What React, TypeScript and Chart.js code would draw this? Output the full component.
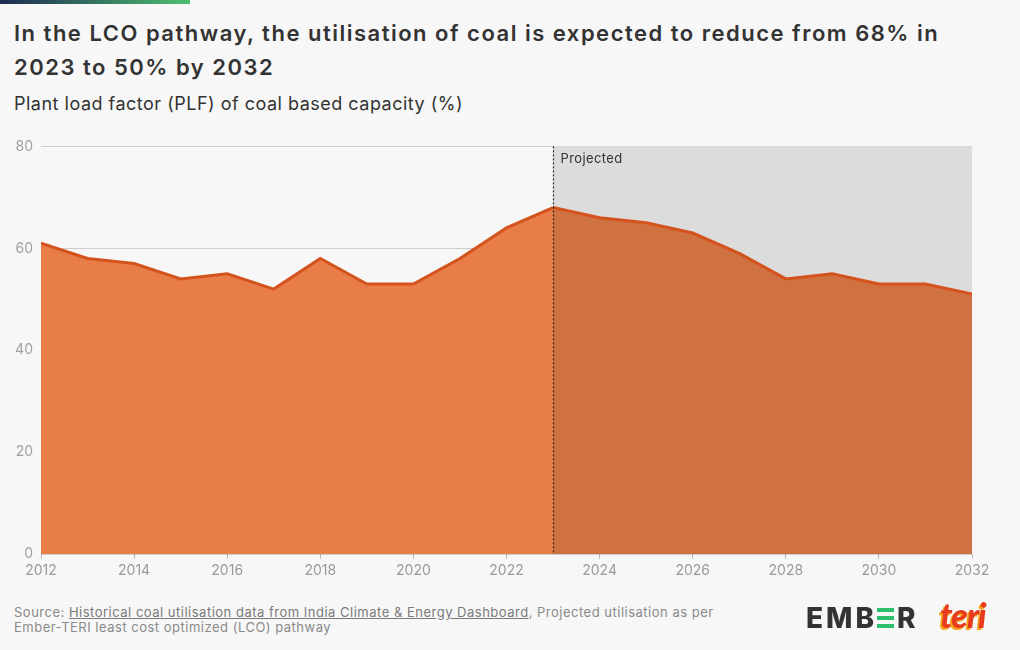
import React, { useEffect, useRef } from "react";
import { Chart, registerables } from "chart.js";

Chart.register(...registerables);

const years = [2012, 2013, 2014, 2015, 2016, 2017, 2018, 2019, 2020, 2021, 2022, 2023, 2024, 2025, 2026, 2027, 2028, 2029, 2030, 2031, 2032];
const plfValues = [61, 58, 57, 54, 55, 52, 58, 53, 53, 58, 64, 68, 66, 65, 63, 59, 54, 55, 53, 53, 51];
const projectionStart = 2023;
const projectionLabel = "Projected";
const yTicks = [0, 20, 40, 60, 80];

const title = "In the LCO pathway, the utilisation of coal is expected to reduce from 68% in 2023 to 50% by 2032";
const subtitle = "Plant load factor (PLF) of coal based capacity (%)";

const projectionPlugin = {
  id: "projection",
  beforeDatasetsDraw(chart: any) {
    const { ctx, chartArea, scales } = chart;
    const x0 = scales.x.getPixelForValue(projectionStart);
    ctx.save();
    ctx.fillStyle = "#DCDCDC";
    ctx.fillRect(x0, chartArea.top, chartArea.right - x0, chartArea.bottom - chartArea.top);
    ctx.restore();
  },
  afterDatasetsDraw(chart: any) {
    const { ctx, chartArea, scales } = chart;
    const x0 = Math.round(scales.x.getPixelForValue(projectionStart)) + 0.5;
    ctx.save();
    ctx.strokeStyle = "#222";
    ctx.lineWidth = 1.2;
    ctx.setLineDash([2, 2]);
    ctx.beginPath();
    ctx.moveTo(x0, chartArea.top);
    ctx.lineTo(x0, chartArea.bottom);
    ctx.stroke();
    ctx.setLineDash([]);
    ctx.fillStyle = "#333";
    ctx.font = "13px Inter, 'Noto Sans', sans-serif";
    (ctx as any).letterSpacing = "0.4px";
    ctx.textAlign = "left";
    ctx.textBaseline = "middle";
    ctx.fillText(projectionLabel, x0 + 7, chartArea.top + 13);
    ctx.restore();
  },
};

function PlfChart() {
  const ref = useRef<HTMLCanvasElement | null>(null);
  useEffect(() => {
    if (!ref.current) return;
    const data = years.map((y, i) => ({ x: y, y: plfValues[i] }));
    const chart = new Chart(ref.current, {
      type: "line",
      data: {
        datasets: [
          {
            data,
            borderColor: "#D4531C",
            borderWidth: 3,
            pointRadius: 0,
            tension: 0,
            fill: "origin",
            backgroundColor: "#E87D48",
            segment: {
              backgroundColor: (c: any) => (c.p0.parsed.x >= projectionStart ? "#D07142" : "#E87D48"),
            },
          } as any,
        ],
      },
      options: {
        animation: false,
        responsive: false,
        maintainAspectRatio: false,
        layout: { padding: { left: 0, right: 48, top: 16, bottom: 16 } },
        plugins: { legend: { display: false }, tooltip: { enabled: false } },
        scales: {
          x: {
            type: "linear",
            min: 2012,
            max: 2032,
            ticks: {
              stepSize: 2,
              color: "#9A9A9A",
              font: { family: "Inter, 'Noto Sans', sans-serif", size: 14 },
              padding: 3,
              maxRotation: 0,
              callback: (v: any) => String(v),
            },
            grid: { drawOnChartArea: false, drawTicks: true, tickLength: 5, color: "#BBB" },
            border: { display: false },
            afterFit: (s: any) => {
              s.height = 30;
            },
          },
          y: {
            min: 0,
            max: 80,
            z: 1,
            afterBuildTicks: (s: any) => {
              s.ticks = yTicks.map((v) => ({ value: v }));
            },
            ticks: {
              color: "#A0A0A0",
              font: { family: "Inter, 'Noto Sans', sans-serif", size: 14 },
              padding: 8,
            },
            grid: { color: "rgba(0,0,0,0.17)", drawTicks: false, lineWidth: 1 },
            border: { display: false },
            afterFit: (s: any) => {
              s.width = 41;
            },
          },
        },
      } as any,
      plugins: [projectionPlugin],
    });
    return () => chart.destroy();
  }, []);
  return <canvas ref={ref} width={1020} height={470} style={{ position: "absolute", left: 0, top: 130, width: 1020, height: 470 }} />;
}

export default function App() {
  return (
    <div
      style={{
        position: "fixed",
        left: 0,
        top: 0,
        width: 1020,
        height: 650,
        background: "#F7F7F7",
        overflow: "hidden",
        fontFamily: "Inter, 'Noto Sans', sans-serif",
      }}
    >
      <div style={{ position: "absolute", left: 0, top: 0, width: 190, height: 4, background: "linear-gradient(to right, #1d2a52, #4dbf6e)" }} />
      <div style={{ position: "absolute", left: 14, top: 16, width: 960, fontSize: 22, fontWeight: 600, lineHeight: "34px", color: "#333", letterSpacing: 1.5 }}>{title}</div>
      <div style={{ position: "absolute", left: 14, top: 92, fontSize: 18, color: "#333", lineHeight: "24px", letterSpacing: 0.5 }}>{subtitle}</div>
      <PlfChart />
      <div
        style={{
          position: "absolute",
          left: 14,
          top: 605,
          fontSize: 13,
          lineHeight: "15px",
          color: "#8A8A8A",
          letterSpacing: 0.5,
          whiteSpace: "nowrap",
        }}
      >
        Source: <span style={{ textDecoration: "underline", color: "#7A7A7A" }}>Historical coal utilisation data from India Climate &amp; Energy Dashboard</span>, Projected utilisation as per
        <br />
        Ember-TERI least cost optimized (LCO) pathway
      </div>
      <div style={{ position: "absolute", left: 806, top: 604, display: "flex", alignItems: "center", fontSize: 28, fontWeight: 800, color: "#333", letterSpacing: 3, fontFamily: "Inter, sans-serif", lineHeight: "28px" }}>
        <span>EMB</span>
        <span style={{ display: "inline-flex", flexDirection: "column", justifyContent: "space-between", height: 20, width: 17, marginRight: 3 }}>
          <span style={{ height: 4, background: "#2BBE6B", display: "block" }} />
          <span style={{ height: 4, background: "#2BBE6B", display: "block" }} />
          <span style={{ height: 4, background: "#2BBE6B", display: "block" }} />
        </span>
        <span>R</span>
      </div>
      <div style={{ position: "absolute", left: 940, top: 594, fontSize: 34, fontWeight: 900, fontStyle: "italic", color: "#E83A1E", fontFamily: "Lato, sans-serif", textShadow: "-2px 2px 0 #F7A21B", letterSpacing: -1 }}>
        teri
      </div>
    </div>
  );
}
